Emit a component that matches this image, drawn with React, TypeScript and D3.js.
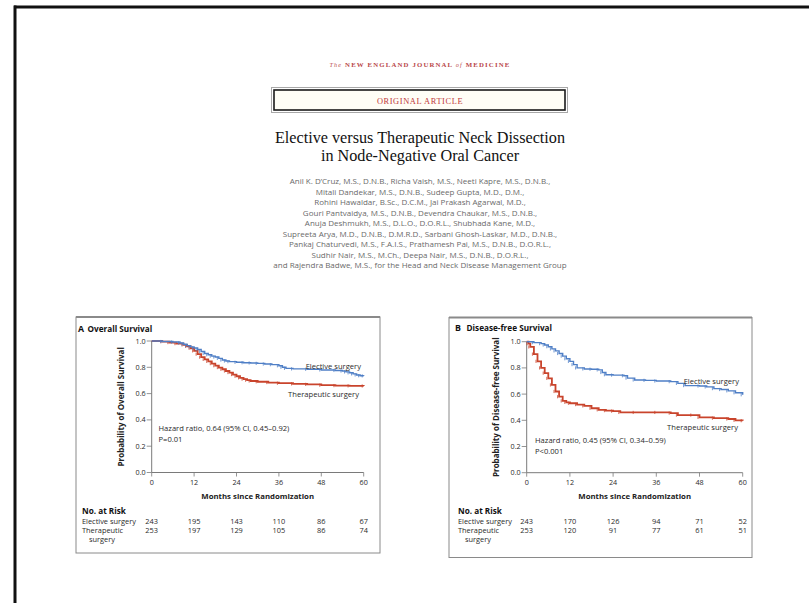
import React from "react";
import * as d3 from "d3";

// ---------- data ----------
const monthTicks = [0, 12, 24, 36, 48, 60];
const probTicks = [0, 0.2, 0.4, 0.6, 0.8, 1.0];

const osElective: [number, number][] = [
  [0, 1.0], [3, 0.996], [6, 0.992], [8, 0.985], [9, 0.975], [10, 0.965], [11, 0.955], [12, 0.947],
  [13, 0.935], [14, 0.92], [15, 0.905], [16, 0.895], [17, 0.885], [18, 0.878], [19, 0.868], [20, 0.855],
  [21, 0.848], [22, 0.843], [24, 0.838], [26, 0.835], [28, 0.833], [30, 0.83], [32, 0.825], [34, 0.82],
  [36, 0.812], [37, 0.8], [38, 0.792], [40, 0.788], [44, 0.785], [48, 0.78], [52, 0.776], [54, 0.772],
  [55, 0.765], [56, 0.758], [57, 0.75], [58, 0.742], [59, 0.736], [60, 0.735],
];
const osTherapeutic: [number, number][] = [
  [0, 1.0], [3, 0.995], [5, 0.988], [7, 0.98], [9, 0.97], [10, 0.96], [11, 0.945], [12, 0.925],
  [13, 0.9], [14, 0.877], [15, 0.86], [16, 0.845], [17, 0.828], [18, 0.812], [19, 0.798], [20, 0.785],
  [21, 0.772], [22, 0.76], [23, 0.745], [24, 0.732], [25, 0.72], [26, 0.71], [27, 0.702], [28, 0.696],
  [30, 0.69], [33, 0.684], [36, 0.679], [40, 0.674], [44, 0.67], [48, 0.664], [52, 0.661], [56, 0.659], [60, 0.658],
];
const dfsElective: [number, number][] = [
  [0, 1.0], [2, 0.993], [4, 0.985], [5, 0.975], [6, 0.962], [7, 0.945], [8, 0.93], [9, 0.91], [10, 0.89],
  [11, 0.87], [12, 0.85], [13, 0.825], [14, 0.8], [16, 0.792], [18, 0.79], [20, 0.785], [21, 0.765],
  [22, 0.748], [24, 0.745], [27, 0.74], [28, 0.722], [30, 0.708], [33, 0.705], [36, 0.7], [40, 0.695],
  [42, 0.682], [44, 0.665], [48, 0.662], [50, 0.655], [52, 0.642], [54, 0.635], [56, 0.625], [58, 0.61], [60, 0.595],
];
const dfsTherapeutic: [number, number][] = [
  [0, 1.0], [0.5, 0.985], [1, 0.96], [2, 0.905], [3, 0.85], [4, 0.8], [5, 0.76], [6, 0.72], [7, 0.67],
  [8, 0.62], [9, 0.58], [10, 0.548], [11, 0.537], [12, 0.53], [14, 0.52], [16, 0.51], [18, 0.492],
  [20, 0.48], [22, 0.474], [24, 0.47], [26, 0.46], [30, 0.46], [36, 0.46], [40, 0.455], [42, 0.44],
  [46, 0.44], [48, 0.422], [52, 0.416], [56, 0.41], [58, 0.4], [60, 0.397],
];

const osRiskElective = [243, 195, 143, 110, 86, 67];
const osRiskTherapeutic = [253, 197, 129, 105, 86, 74];
const dfsRiskElective = [243, 170, 126, 94, 71, 52];
const dfsRiskTherapeutic = [253, 120, 91, 77, 61, 51];

const authorLines = [
  "Anil K. D\u2019Cruz, M.S., D.N.B., Richa Vaish, M.S., Neeti Kapre, M.S., D.N.B.,",
  "Mitali Dandekar, M.S., D.N.B., Sudeep Gupta, M.D., D.M.,",
  "Rohini Hawaldar, B.Sc., D.C.M., Jai Prakash Agarwal, M.D.,",
  "Gouri Pantvaidya, M.S., D.N.B., Devendra Chaukar, M.S., D.N.B.,",
  "Anuja Deshmukh, M.S., D.L.O., D.O.R.L., Shubhada Kane, M.D.,",
  "Supreeta Arya, M.D., D.N.B., D.M.R.D., Sarbani Ghosh-Laskar, M.D., D.N.B.,",
  "Pankaj Chaturvedi, M.S., F.A.I.S., Prathamesh Pai, M.S., D.N.B., D.O.R.L.,",
  "Sudhir Nair, M.S., M.Ch., Deepa Nair, M.S., D.N.B., D.O.R.L.,",
  "and Rajendra Badwe, M.S., for the Head and Neck Disease Management Group",
];

// ---------- style ----------
const BLUE = "#4f7fc6";
const RED = "#c9442c";
const SANS = "'Open Sans', 'Liberation Sans', sans-serif";
const SERIF = "'Liberation Serif', 'DejaVu Serif', serif";
const TXT = "#2a2a2a";

type PanelCfg = {
  box: [number, number, number, number];
  px: [number, number];
  py: [number, number];
  letter: string;
  title: string;
  letterX: number;
  titleX: number;
  titleY: number;
  ylabel: string;
  elective: [number, number][];
  therapeutic: [number, number][];
  eLabel: [number, number];
  tLabel: [number, number];
  hr: string;
  p: string;
  hrPos: [number, number];
  riskE: number[];
  riskT: number[];
  riskX: number;
};

function Panel({ c }: { c: PanelCfg }) {
  const x = d3.scaleLinear().domain([0, 60]).range(c.px);
  const y = d3.scaleLinear().domain([0, 1]).range([c.py[0], c.py[1]]);
  const line = d3
    .line<[number, number]>()
    .x((d) => x(d[0]))
    .y((d) => y(d[1]))
    .curve(d3.curveStepAfter);
  const [bx, by, bw, bh] = c.box;
  const axisColor = "#7a7a7a";
  const censor = (data: [number, number][], col: string) =>
    data
      .filter((d) => d[0] > 0)
      .map((d, i) => (
        <line key={i} x1={x(d[0]) - 1.5} x2={x(d[0]) - 1.5} y1={y(d[1]) - 1.6} y2={y(d[1]) + 1.6} stroke={col} strokeWidth={0.8} />
      ));
  return (
    <g>
      <rect x={bx} y={by} width={bw} height={bh} fill="#fff" stroke="#8a8a8a" strokeWidth={1} />
      <line x1={bx} x2={bx + bw} y1={by} y2={by} stroke="#8a8a8a" strokeWidth={2} />
      <text x={c.letterX} y={c.titleY} fontFamily={SANS} fontSize={8.8} fontWeight="bold" fill="#111">
        {c.letter}
      </text>
      <text x={c.titleX} y={c.titleY} fontFamily={SANS} fontSize={8.2} fontWeight="bold" fill="#111">
        {c.title}
      </text>
      {/* axes */}
      <line x1={x(0)} x2={x(0)} y1={y(1)} y2={y(0)} stroke={axisColor} strokeWidth={1} />
      <line x1={x(0)} x2={x(60)} y1={y(0)} y2={y(0)} stroke={axisColor} strokeWidth={1} />
      {probTicks.map((t) => (
        <g key={t}>
          <line x1={x(0) - 5} x2={x(0)} y1={y(t)} y2={y(t)} stroke={axisColor} strokeWidth={0.8} />
          <text x={x(0) - 6} y={y(t) + 2.5} textAnchor="end" fontFamily={SANS} fontSize={7.2} fill={TXT}>
            {t.toFixed(1)}
          </text>
        </g>
      ))}
      {monthTicks.map((t) => (
        <g key={t}>
          <line x1={x(t)} x2={x(t)} y1={y(0)} y2={y(0) + 4} stroke={axisColor} strokeWidth={0.8} />
          <text x={x(t)} y={y(0) + 12} textAnchor="middle" fontFamily={SANS} fontSize={7.2} fill={TXT}>
            {t}
          </text>
        </g>
      ))}
      <text
        transform={`translate(${x(0) - 28},${(y(0) + y(1)) / 2}) rotate(-90)`}
        textAnchor="middle"
        fontFamily={SANS}
        fontSize={8}
        fontWeight="bold"
        fill="#222"
      >
        {c.ylabel}
      </text>
      <text x={(x(0) + x(60)) / 2} y={y(0) + 26} textAnchor="middle" fontFamily={SANS} fontSize={7.8} fontWeight="bold" fill="#222">
        Months since Randomization
      </text>
      {/* curves */}
      <path d={line(c.therapeutic) || ""} fill="none" stroke={RED} strokeWidth={1.8} />
      {censor(c.therapeutic, RED)}
      <path d={line(c.elective) || ""} fill="none" stroke={BLUE} strokeWidth={1.4} />
      {censor(c.elective, BLUE)}
      <text x={c.eLabel[0]} y={c.eLabel[1]} textAnchor="end" fontFamily={SANS} fontSize={7.6} fill={TXT}>
        Elective surgery
      </text>
      <text x={c.tLabel[0]} y={c.tLabel[1]} textAnchor="end" fontFamily={SANS} fontSize={7.6} fill={TXT}>
        Therapeutic surgery
      </text>
      <text x={c.hrPos[0]} y={c.hrPos[1]} fontFamily={SANS} fontSize={7.6} fill={TXT}>
        {c.hr}
      </text>
      <text x={c.hrPos[0]} y={c.hrPos[1] + 10.5} fontFamily={SANS} fontSize={7.6} fill={TXT}>
        {c.p}
      </text>
      {/* risk table */}
      <text x={c.riskX} y={y(0) + 41} fontFamily={SANS} fontSize={8.2} fontWeight="bold" fill="#111">
        No. at Risk
      </text>
      <text x={c.riskX} y={y(0) + 51} fontFamily={SANS} fontSize={7.4} fill={TXT}>
        Elective surgery
      </text>
      <text x={c.riskX} y={y(0) + 60.5} fontFamily={SANS} fontSize={7.4} fill={TXT}>
        Therapeutic
      </text>
      <text x={c.riskX + 7} y={y(0) + 69.5} fontFamily={SANS} fontSize={7.4} fill={TXT}>
        surgery
      </text>
      {c.riskE.map((v, i) => (
        <text key={"e" + i} x={x(monthTicks[i])} y={y(0) + 51} textAnchor="middle" fontFamily={SANS} fontSize={7.4} fill={TXT}>
          {v}
        </text>
      ))}
      {c.riskT.map((v, i) => (
        <text key={"t" + i} x={x(monthTicks[i])} y={y(0) + 60.5} textAnchor="middle" fontFamily={SANS} fontSize={7.4} fill={TXT}>
          {v}
        </text>
      ))}
    </g>
  );
}

const panelA: PanelCfg = {
  box: [76, 317, 304, 236],
  px: [151.7, 363.7],
  py: [472.5, 341],
  letter: "A",
  title: "Overall Survival",
  letterX: 78,
  titleX: 87.5,
  titleY: 332,
  ylabel: "Probability of Overall  Survival",
  elective: osElective,
  therapeutic: osTherapeutic,
  eLabel: [361, 369],
  tLabel: [359, 397],
  hr: "Hazard ratio, 0.64 (95% CI, 0.45\u20130.92)",
  p: "P=0.01",
  hrPos: [158.5, 431],
  riskE: osRiskElective,
  riskT: osRiskTherapeutic,
  riskX: 82,
};

const panelB: PanelCfg = {
  box: [449, 317.5, 303, 240],
  px: [526.7, 742.7],
  py: [472.7, 341.7],
  letter: "B",
  title: "Disease-free Survival",
  letterX: 455,
  titleX: 466.5,
  titleY: 331,
  ylabel: "Probability of Disease-free Survival",
  elective: dfsElective,
  therapeutic: dfsTherapeutic,
  eLabel: [739, 384],
  tLabel: [738, 430],
  hr: "Hazard ratio, 0.45 (95% CI, 0.34\u20130.59)",
  p: "P<0.001",
  hrPos: [535, 443],
  riskE: dfsRiskElective,
  riskT: dfsRiskTherapeutic,
  riskX: 458,
};

export default function App() {
  return (
    <svg
      width={809}
      height={603}
      style={{ position: "absolute", left: 0, top: 0, background: "#fff" }}
    >
      {/* page frame */}
      <line x1={14} x2={809} y1={7} y2={7} stroke="#111" strokeWidth={3} />
      <line x1={15} x2={15} y1={5.5} y2={603} stroke="#111" strokeWidth={3} />

      {/* journal header */}
      <text x={420} y={67} textAnchor="middle" fontFamily={SERIF} fontSize={6.8} fontWeight="bold" fill="#b9474a" letterSpacing={1.15}>
        <tspan fontStyle="italic" fontWeight="normal" fontSize={6.2}>The</tspan>
        <tspan> NEW ENGLAND JOURNAL </tspan>
        <tspan fontStyle="italic" fontWeight="normal" fontSize={6.2}>of</tspan>
        <tspan> MEDICINE</tspan>
      </text>
      <rect x={271.5} y={87.5} width={296} height={25} fill="none" stroke="#a8a8a8" strokeWidth={1} />
      <rect x={274} y={90} width={291} height={20} fill="#fffef6" stroke="#1a1a1a" strokeWidth={1.6} />
      <text x={420} y={103.5} textAnchor="middle" fontFamily={SERIF} fontSize={8.4} fill="#c0393b" letterSpacing={0.6}>
        ORIGINAL ARTICLE
      </text>

      {/* title */}
      <text x={420} y={143} textAnchor="middle" fontFamily={SERIF} fontSize={16.2} fill="#111">
        Elective versus Therapeutic Neck Dissection
      </text>
      <text x={420} y={161} textAnchor="middle" fontFamily={SERIF} fontSize={16.2} fill="#111">
        in Node-Negative Oral Cancer
      </text>
      {authorLines.map((l, i) => (
        <text key={i} x={420} y={184 + i * 10.5} textAnchor="middle" fontFamily={SANS} fontSize={8} fill="#6a6a6a">
          {l}
        </text>
      ))}

      <Panel c={panelA} />
      <Panel c={panelB} />
    </svg>
  );
}
